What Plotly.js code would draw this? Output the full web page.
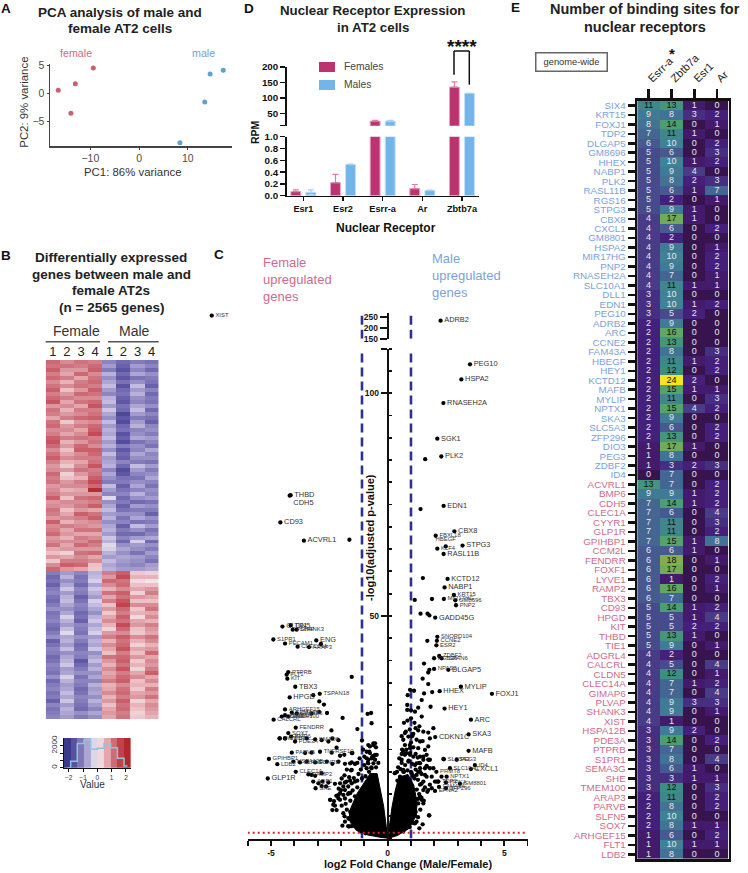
<!DOCTYPE html>
<html><head><meta charset="utf-8">
<script src="https://cdn.plot.ly/plotly-3.0.1.min.js"></script>
<style>html,body{margin:0;padding:0;background:#fff}#chart{width:748px;height:873px}</style>
</head><body><div id="chart"></div>
<script>
// ---------- Panel A: PCA ----------
const femalePC1=[-9.4,-13.1,-16.6,-14.0];
const femalePC2=[4.5,1.65,0.5,-3.6];
const malePC1=[17.3,14.6,13.5,8.4];
const malePC2=[4.1,3.4,-1.6,-8.9];
// ---------- Panel D: bars ----------
const receptors=['Esr1','Esr2','Esrr-a','Ar','Zbtb7a'];
const femalesRPM=[0.07,0.22,25,0.12,135];
const malesRPM=[0.06,0.53,25,0.09,115];
const femalesErr=[0.03,0.14,2,0.07,17];
const malesErr=[0.04,0.005,2,0.005,0];
// ---------- Panel B: expression heat map (columns of samples) ----------
const f1=[1.2,1.1,1.3,1.0,1.2,.9,1.1,1.3,1.0,1.2,
1.4,.8,1.1,1.0,.7,1.1,1.2,.9,1.0,1.3,
1.4,1.2,.9,1.1,1.3,1.0,.8,.9,1.2,1.0,
1.1,.8,.9,1.0,1.3,.8,.9,1.1,1.0,.8,
1.3,.9,1.0,1.2,.8,.9,1.1,.7,.5,.8,
.4,.9,1.2,
-1.1,-1.3,-1.2,-1.4,-1.1,-1.0,-1.2,-1.3,-1.1,-.9,
-1.2,-1.1,-1.0,-1.2,-1.3,-1.1,-.9,-1.4,-1.2,-1.0,
-1.1,-1.3,-1.2,-1.0,-1.1,-1.2,-.9,-1.3,-1.1,-1.0,
-1.2,-1.1,-1.4,-1.0,-1.2,-1.1,-1.0];
const f2=[.9,1.1,.8,.7,1.0,.6,.9,.5,.8,1.0,
.7,.9,.6,.8,1.0,.4,.8,.9,.7,1.0,
.6,.8,.5,.7,.9,.6,.4,.8,.3,.5,
.8,.9,.6,.8,.5,.9,.8,.5,.7,.9,
.6,1.0,.7,.8,.6,.9,.7,.8,.3,.7,
1.0,1.3,.8,
-.8,-.6,-.9,-.7,-.4,-.8,-.6,-.5,-.7,-.9,
-.7,-.3,-.6,-.8,-.5,-.2,-.7,-.6,-.8,-.5,
-.9,-.7,-.6,-.4,-.8,-.7,-.3,-.6,-.8,-.7,
-.5,-.7,-.4,-.8,-.6,-.7,-.8];
const f3=[1.1,1.0,.8,1.2,.7,1.0,1.1,.8,1.2,.9,
1.1,.7,1.0,.9,1.2,.8,1.0,.7,.9,1.1,
.8,1.2,1.3,.9,1.0,.7,.9,1.1,.8,.6,
1.0,.9,.7,.8,1.1,.9,1.0,.8,1.3,1.0,
.8,.9,1.1,.7,1.0,.9,1.2,.8,1.1,.9,
1.0,1.2,.7,
-1.0,-1.2,-1.1,-1.3,-1.0,-1.1,-1.4,-1.2,-1.0,-1.1,
-1.3,-1.2,-1.4,-1.0,-1.1,-1.2,-.9,-1.1,-1.3,-1.2,
-1.0,-1.1,-1.5,-1.3,-1.1,-.9,-1.2,-1.0,-1.1,-1.3,
-1.2,-1.0,-1.1,-1.2,-1.3,-.9,-1.1];
const f4=[1.0,1.2,1.3,.9,1.1,1.2,1.0,1.3,1.1,.9,
1.2,1.4,1.0,1.1,1.3,.9,1.2,1.3,1.5,1.0,
1.1,.9,1.3,1.2,1.0,1.1,1.4,1.0,1.1,1.3,
1.5,1.2,2.0,.8,1.2,1.0,1.3,.7,1.1,1.3,
.9,.8,1.1,.7,.9,1.2,1.0,.8,1.2,.7,
.9,.5,.4,
-.6,-.5,-.3,-.7,-.4,-.6,-.8,-.3,-.5,-.7,
-.9,-.6,-.4,-.7,-.5,-.3,-.8,-.6,-.7,-.4,
-.9,-.7,-.5,-.8,-.6,-.9,-.7,-1.0,-.6,-.8,
-.7,-.9,-.6,-.8,-1.0,-.7,-.9];
const m1=[-1.0,-.8,-1.1,-.6,-.9,-.7,-.5,-.8,-1.0,-.6,
-.5,-.8,-.4,-.7,-.9,-.5,-.8,-.6,-.7,-.5,
-.8,-.6,-.9,-.5,-.8,-.7,-.6,-1.0,-.7,-.9,
-1.1,-.5,-.8,-1.0,-.2,-.9,-.7,-.5,-.8,-.6,
-.9,-.7,-.6,-.8,-.4,-.6,-.2,-.3,-.6,-.8,
-.5,-.7,-.6,
1.0,.8,1.2,.9,.6,1.1,.7,1.0,.5,.8,
.4,.7,.9,.6,.3,.8,1.0,.6,.9,.7,
.5,1.1,.8,.6,.9,.7,.8,1.0,.6,.7,
.9,.6,.8,.5,.7,.8,.7];
const m2=[-1.3,-1.4,-1.6,-1.3,-1.5,-1.2,-1.6,-1.3,-1.2,-1.4,
-1.5,-1.2,-1.3,-1.8,-1.5,-1.7,-1.3,-1.2,-1.6,-1.4,
-1.7,-1.1,-1.5,-1.3,-1.4,-1.0,-1.3,-1.7,-1.5,-1.2,
-1.1,-1.4,-1.2,-1.0,-1.3,-1.1,-1.4,-1.2,-.9,-1.2,
-1.0,-1.4,-1.1,-1.3,-1.0,-1.3,-.9,-.7,-.9,-.7,
-.8,-.9,-.8,
1.3,1.5,1.1,1.2,.9,1.3,1.1,1.4,1.6,1.2,
1.0,1.3,1.1,1.5,1.2,.9,1.3,1.1,1.2,1.4,
1.0,1.2,1.3,1.1,1.4,1.0,1.2,1.3,.9,1.1,
1.2,1.0,1.3,1.1,1.2,1.0,1.1];
const m3=[-1.1,-.8,-1.0,-.7,-1.2,-.9,-.5,-.8,-.6,-.9,
-1.0,-.7,-.5,-.8,-1.1,-.8,-.6,-1.0,-.9,-.7,
-1.2,-.9,-1.0,-.7,-.9,-1.1,-.5,-.8,-1.0,-1.2,
-.9,-.7,-1.0,-.6,-.9,-1.3,-.8,-1.1,-.9,-.7,
-1.2,-.5,-.9,-1.3,-.8,-.3,-.8,-.9,-1.2,-.8,
-.9,-1.0,-.8,
.4,.6,.2,.5,.7,.3,.8,.5,.9,.4,
.6,.2,.7,.8,.5,.4,.9,.6,.3,.7,
.5,.8,.4,.6,.3,.7,.9,.5,.6,.4,
.7,.8,.3,.6,.5,.3,.4];
const m4=[-1.2,-1.0,-1.3,-.9,-1.1,-1.2,-1.4,-1.0,-1.3,-1.1,
-1.2,-.9,-1.3,-1.0,-1.2,-1.4,-1.0,-.9,-1.1,-.8,
-1.0,-1.2,-.7,-1.0,-.9,-1.2,-.8,-1.1,-.9,-.7,
-1.0,-1.2,-.9,-1.0,-.8,-1.2,-.9,-1.1,-1.4,-.9,
-1.1,-.8,-1.2,-1.0,-.7,-1.3,-.9,-1.1,-.8,-1.0,
-1.2,-.8,-.7,
.3,.6,.1,.5,.8,1.0,.7,.5,.9,1.1,
.7,.9,.6,1.0,.8,.7,1.1,.9,.6,.8,
1.2,.7,.9,.8,1.0,1.3,.7,.9,.6,1.0,
.8,1.1,.7,.9,.8,.7,.6];
const sampleLabels=['1','2','3','4','1','2','3','4'];
const keyBinCentres=[-2.1,-1.63,-1.17,-.7,-.23,.23,.7,1.17,1.63,2.1];
const keyCounts=[0,580,2210,2515,1670,1760,2180,1820,850,150];
// ---------- Panel C: volcano ----------
const upperNames=['XIST','ADRB2'];
const upperFC=[-7.54,2.27];
const upperP=[255,232];
const geneNames=['PEG10','HSPA2','RNASEH2A','SGK1','PLK2','EDN1','CBX8','FBXL18','HBEGF','KLF4','STPG3','RASL11B','KCTD12','NABP1','KRT15','MIR17HG','GM8696','PNP2','GADD45G','SNORD104','CCNE2','ESR2','ZDBF2','RGS16','TSPAN6','NPAS2','DLGAP5','MYLIP','HHEX','FOXJ1','HEY1','ARC','SKA3','CDKN1C','MAFB','SLC10A1','SLC5A3','PEG3','ID4','CXCL1','PRMT8','NPTX1','TDP2','ITPKA','GM8801','ZFP296','EFNA2','FAM43A',
'THBD','CDH5','CD93','ACVRL1','TIE1','CLDN5','PLVAP','SHANK3','S1PR1','CLEC14A','PECAM1','ARAP3','ENG','PTPRB','FLT1','KIT','TBX3','HPGD','TSPAN18','ARHGEF15','SEMA3G','GIMAP6','CCM2L','ADGRL4','TMEM100','CALCRL','FENDRR','SOX7','LYVE1','BMP6','CYYR1','PDE3A','SMAD6','PARVB','TNFRSF10','GPIHBP1','LDB2','HSPA12B','SLFN5','EDNRB','CLEC1A','RAMP2','GLP1R','AQP1','SHE'];
const geneFC=[3.53,3.16,2.39,2.13,2.30,2.4,2.86,2.06,2.49,2.13,3.21,2.4,2.57,2.44,2.84,2.41,2.9,2.93,2.04,2.13,2.11,2.09,2.21,1.99,2.31,1.99,2.6,3.14,2.23,4.47,2.44,3.57,3.47,2.04,3.47,2.67,2.41,2.96,3.74,3.57,2.09,2.53,2.17,2.5,3.1,2.5,2.03,2.2,
-4.16,-4.2,-4.6,-3.59,-4.16,-4.51,-4.07,-3.9,-4.9,-3.86,-4.4,-3.37,-3.06,-4.26,-4.33,-4.3,-3.96,-4.2,-2.91,-4.4,-4.11,-3.9,-4.54,-4.4,-4.26,-4.89,-3.94,-4.26,-4.63,-4.14,-4.4,-3.97,-3.11,-4.11,-2.9,-5.09,-4.73,-4.04,-3.76,-3.11,-3.94,-3.4,-5.14,-3.19,-3.09];
const geneP=[106.5,103.1,97.8,89.8,85.8,74.7,69,68,65.6,65.1,65.8,63.9,58.3,56.4,54.7,53.8,53.5,52.4,49.6,45.3,44.4,43.4,41,40.5,40.5,38.1,37.9,34.1,33.1,32.5,29.2,26.7,23.4,22.8,19.7,15.8,17.8,17.7,16.5,15.6,15,13.9,12.8,12.6,12.3,11.3,10.7,11.6,
77.1,77,71,66.9,47.9,47.6,46.9,46.9,44.7,43.1,43.8,43,44.5,37.4,36.8,35.9,34.1,31.7,32.5,29,28.3,28.1,27.4,27.7,27.4,26.7,24.9,23.7,22.5,22.9,22.5,21.8,22.3,19.3,19.5,17.9,16.7,17.3,17.1,17.1,15,14.4,13.5,12.8,11.3];
const largeLabels=['PEG10','HSPA2','RNASEH2A','SGK1','PLK2','EDN1','THBD','CDH5','CD93','ACVRL1','CBX8','STPG3','RASL11B','KCTD12','NABP1','GADD45G','MYLIP','HHEX','FOXJ1','HEY1','ARC','SKA3','CDKN1C','MAFB','ENG','TBX3','HPGD','GLP1R','DLGAP5','CXCL1','ADRB2','CLDN5'];
const otherFC=[1.61,1.41,-1.64,1.51,1.16,1.9,1.41,1.71,1.79,1.7,1.56,1.79,1.74,1.5,1.74,1.91,1.56,1.13,.96,.86,1.84,1.46,1.31,.84,.84,1,1.17,1.46,1.36,1.96,1.74,1.53,1.31,.74,.89,1.1,1.5,
-2.86,-3.19,-2.93,-2.73,-2.93,-2.6,-1.93,-1.54,-1.3,-.69,-.86,-.71,-2.41,-4.63,-4.4,-2.83,-2.54,-2.37,-2.11,-2.19,-2.04,-1.86,-1.51,-3.47,-3.26,-3.54,-2.4,-3.47,-3.26,-2.61,-2.37,-2.11,-1.83,-1.57,-1.54,-1.4,-3.26,-2.83,-3.11,-2.97,-2.83,-2.64,-2.26,-2.8,-2.54,
-.83,-.61,-.79,-1,-.83,-.61,-2.04,-1.83,-1.61,-2,-2.11,-1.83,-1.66,-2.46,-2.04,-2.19,-2.33,-1.94,-1.66,-1.47,-1.33,-1.26,
-.61,-.76,-.54,-.76,-.54,-.47,-.9,-.69,-.54,-.83,-.61,-.9,-.69,-1.54,-1.61,-1.4,-1.54,-1.97,-1.76,-1.54,-1.4,-1.9,-2.04,-1.9,-1.69,-2.47,-2.26,-2.37,-1.97,-1.83,-1.61,-2.11,-1.9,-1.69,-1.83,-1.69,-1.4,
1.39,1.74,.67,.96,.74,.6,1.39,1.67,1.81,1.53,1.24,1.39,1.67,2.39,1.96,1.39,1.24,1.67,.31,.67,1.53,1.81,2.03,2.17,1.39,1.53,1.89,1.39,1.31,1.53,1.77,1.24,1.46,1.17,.67,
.67,.81,.96,1.1,1.29,1.53,1.74,.6,.89,1.17,1.39,1.67,1.81,.67,1.03,1.31,1.6,1.89,.31,.53,.74,1,1.31,1.6,1.81,1.24,.96,.67,1.74,2.1,2.31,1.79,1.36,1.17,1.5,
.45,.6,.75,.9,1.05,1.2,.5,.62,.8,.95,1.1,1.2,1.35,1.45,1.6,1.15,1.3,1.45,1.6,1.7,1.25,1.35,1.45,1.55,1.3,1.4,1.2,1.3,1.1,.95,.7,.85,1,.55,.4,.42,1.1,.78,.95,1.05,1.2,.6,.7,.85,1,1.15,
-.5,-.7,-.85,-1,-1.15,-1.25,-1.1,-.95,-.8,-1.3,-1.45,-1.65,-1.3,-1.5,-1.7,-1.4,-1.6,-1.8,-1.75,-1.6,-1.85,-1.65,-1.55,-1.3,-1.15,-.95,-.65,-.9,-1.05,-.5,-.4,-1.2,-1.3,-1.1,-1.75,-1.85,-2.1,-2.2,-2.3];
const otherP=[85.2,74,67.1,58.5,53.6,53.8,50.5,50.5,50.1,44.4,39.3,37.9,37.3,35.9,34.7,32.9,32.6,33.2,33.4,32.2,29.6,31.1,29.4,30,28.9,28.8,28.5,27.4,25.2,24.8,23.8,24,24.3,23.7,22.9,23.5,21.9,
43.7,32.2,30.8,30.1,28.4,28.2,27.1,36.3,24.6,25.9,28,28.2,24.3,22.5,22.5,22.1,21.8,22.5,22.1,20.4,18.6,18.8,19.2,22.5,19.3,19.2,19.3,17.3,28.1,17.3,16.8,17.3,16.8,15.3,17.1,16.8,14.3,14.7,14.1,12.4,11.8,11.7,12.3,12.8,12.6,
21,21.4,19.5,18.4,17.7,18.4,12.4,12.6,13,10.9,9.8,10.9,10.2,8.7,8.7,6.4,7.6,2.9,2.7,3.8,4.9,6.8,
21,20.7,21.4,19.2,18.8,18.8,18,18,17.7,16.9,16.9,15.8,15.8,19.2,16.9,16.8,15.4,13.5,12.8,12.4,12.8,11.7,10.2,9.8,11.7,8.7,7.4,6.4,7.4,9,10.2,9,5.7,4.6,3.8,2.8,2.7,
21.8,20.7,19.5,19.2,18.8,19,18.4,18.8,17.7,17.7,16.9,15.8,16.2,17.9,15.8,15,14.3,13.9,14.7,15,12.8,12.1,12.8,12.8,12.1,10.9,11.3,9.4,7.9,7.9,5.2,3.8,8.7,5.3,1.6,
19.5,19.2,18.8,18.4,18.2,18.4,17.7,17.7,17.3,16.5,16.9,16.3,15.8,15.4,14.7,15,14.3,13.9,14.7,13.9,21,21.6,20.3,19.9,22.5,22.2,20.3,22.2,10.9,12.8,13.9,5.2,2.3,3.4,3.2,
16,17,16.5,17.5,16.8,15.5,18,20,20,21,20.5,19,17,14.5,15.8,13.5,13.2,12.3,11.5,10.5,11,10,9.2,8.5,8.9,6.5,6,4.8,3.5,2.6,15,15.3,15,15.6,15,13,14,24,24.5,23,24.8,23,26,26.5,27,26,
16,16,17,16.5,15.5,14.5,13.5,14,15,13,13.6,13.8,11.5,10.8,10,9.5,8.5,7.8,6.5,6,5,4.4,2.8,2.2,1.6,1.2,18.5,19.5,20,20.5,17,18,17,22,15.5,14.2,11.2,9.6,8.4];
const denseLeftFC=[0,-.2,-.85,-1.3,-1.6,-1.65,-1.45,-1.3,-1,-.75,-.45,-.3,-.17,-.06,0];
const denseLeftP=[0,.2,.8,1.7,3.6,6,8.3,10.2,12.6,14.6,14.6,10.9,7.2,2.7,0];
const denseRightFC=[0,.06,.19,.33,.48,.87,1.12,1.27,1.2,.9,.42,0];
const denseRightP=[0,2.7,7.2,10.9,13.8,14.4,12,7.9,4.9,2.2,.7,0];
const foldCutoff=[-1.1,1];
const pCutoff=1.3;
// ---------- Panel E: binding sites ----------
const maleGenes=['SIX4','KRT15','FOXJ1','TDP2','DLGAP5','GM8696','HHEX','NABP1','PLK2','RASL11B','RGS16','STPG3','CBX8','CXCL1','GM8801','HSPA2','MIR17HG','PNP2','RNASEH2A','SLC10A1','DLL1','EDN1','PEG10','ADRB2','ARC','CCNE2','FAM43A','HBEGF','HEY1','KCTD12','MAFB','MYLIP','NPTX1','SKA3','SLC5A3','ZFP296','DIO3','PEG3','ZDBF2','ID4'];
const femaleGenes=['ACVRL1','BMP6','CDH5','CLEC1A','CYYR1','GLP1R','GPIHBP1','CCM2L','FENDRR','FOXF1','LYVE1','RAMP2','TBX3','CD93','HPGD','KIT','THBD','TIE1','ADGRL4','CALCRL','CLDN5','CLEC14A','GIMAP6','PLVAP','SHANK3','XIST','HSPA12B','PDE3A','PTPRB','S1PR1','SEMA3G','SHE','TMEM100','ARAP3','PARVB','SLFN5','SOX7','ARHGEF15','FLT1','LDB2'];
const factors=['Esrr-a','Zbtb7a','Esr1','Ar'];
const esrra=[11,9,8,7,6,5,5,5,5,5,5,5,4,4,4,4,4,4,4,4,3,3,3,2,2,2,2,2,2,2,2,2,2,2,2,2,1,1,1,0,
13,9,7,7,7,7,7,6,6,6,6,6,6,5,5,5,5,5,4,4,4,4,4,4,4,4,3,3,3,3,3,3,3,2,2,2,2,1,1,1];
const zbtb7a=[13,8,14,11,10,6,10,9,8,6,2,9,17,6,2,9,10,9,7,11,10,10,5,9,16,13,8,11,12,24,15,11,15,9,6,13,17,8,3,7,
7,9,14,6,11,11,15,6,18,17,1,16,7,14,5,5,13,9,2,5,12,7,7,9,9,1,9,14,7,8,6,3,12,11,8,10,8,6,10,8];
const esr1=[1,3,0,1,0,0,1,4,2,1,0,1,1,0,0,0,0,0,0,1,0,1,2,0,0,0,0,1,0,2,1,0,4,0,0,0,1,0,2,0,
0,1,1,0,0,0,1,1,0,0,0,0,0,1,1,2,1,0,0,0,0,1,0,3,0,0,2,0,0,0,1,1,0,0,0,0,1,0,1,0];
const ar=[0,2,1,0,2,3,2,0,3,7,1,0,0,2,0,1,2,2,1,1,0,2,0,0,0,0,3,2,2,0,1,3,2,0,2,2,0,0,3,0,
2,2,2,4,3,2,8,0,1,0,2,1,0,2,4,2,0,1,0,4,1,2,4,3,1,0,0,2,0,4,0,1,3,2,2,0,1,2,1,0];

// ---------- helpers ----------
const W=748,H=873;
const hDom=(a,b)=>[a/W,b/W];
const vDom=(top,bot)=>[1-bot/H,1-top/H];
const FONT='"Liberation Sans",Arial,sans-serif';
const note=(text,x,y,size,color,extra)=>Object.assign({text,x:x/W,y:1-y/H,xref:'paper',yref:'paper',xanchor:'center',yanchor:'middle',showarrow:false,font:{family:FONT,size,color:color||'#222'}},extra||{});
const boxShape=(a,top,b,bot,fill,line)=>({type:'rect',xref:'paper',yref:'paper',x0:a/W,x1:b/W,y0:1-bot/H,y1:1-top/H,fillcolor:fill,line:line||{width:0}});
const lineShape=(a,top,b,bot,color,width)=>({type:'line',xref:'paper',yref:'paper',x0:a/W,x1:b/W,y0:1-bot/H,y1:1-top/H,line:{color,width}});

const PINK='#cf6a8c',BLUE='#7ba2dc';
const traces=[];
// Panel A
traces.push({type:'scatter',mode:'markers',x:femalePC1,y:femalePC2,xaxis:'x',yaxis:'y',marker:{size:5,color:'#c4626f'}});
traces.push({type:'scatter',mode:'markers',x:malePC1,y:malePC2,xaxis:'x',yaxis:'y',marker:{size:5,color:'#5ea2cf'}});
// Panel D
const barStyle=(name,y,err,fill,edge,errCol,offset,minus,xa,ya)=>({type:'bar',name,x:receptors.map((_,i)=>i),y,xaxis:xa,yaxis:ya,width:0.25,offset,
 marker:{color:fill,line:{color:edge,width:1}},
 error_y:{type:'data',symmetric:false,array:err,arrayminus:minus,color:errCol,thickness:1.2,width:3}});
const noMinus=receptors.map(()=>0);
[['x2','y2'],['x3','y3']].forEach(([xa,ya])=>{
 traces.push(barStyle('Females',femalesRPM,femalesErr,'#bb3470','#e9a6c4','#e07ca8',-0.315,noMinus,xa,ya));
 traces.push(barStyle('Males',malesRPM,malesErr,'#72b5ea','#c2e0f6','#a8d0f0',0.065,malesErr,xa,ya));
});
// Panel C guide lines
foldCutoff.forEach(v=>{
 traces.push({type:'scatter',mode:'lines',x:[v,v],y:[0,110],xaxis:'x4',yaxis:'y4',line:{color:'#2e3192',width:2.6,dash:'9px,5px'}});
 traces.push({type:'scatter',mode:'lines',x:[v,v],y:[150,268],xaxis:'x5',yaxis:'y5',line:{color:'#2e3192',width:2.6,dash:'9px,5px'}});
});
// Panel C points
traces.push({type:'scatter',mode:'lines',x:denseLeftFC,y:denseLeftP,xaxis:'x4',yaxis:'y4',fill:'toself',fillcolor:'#000',line:{color:'#000',width:1}});
traces.push({type:'scatter',mode:'lines',x:denseRightFC,y:denseRightP,xaxis:'x4',yaxis:'y4',fill:'toself',fillcolor:'#000',line:{color:'#000',width:1}});
traces.push({type:'scatter',mode:'markers',x:otherFC,y:otherP,xaxis:'x4',yaxis:'y4',marker:{size:4.3,color:'#000'}});
const labelPos={CDH5:'bottom right',HBEGF:'top center'};
const labelTrace=(names,x,y,xa,ya)=>({type:'scatter',mode:'markers+text',x,y,text:names,xaxis:xa,yaxis:ya,cliponaxis:false,
 marker:{size:4.3,color:'#000'},textposition:names.map(n=>labelPos[n]||'middle right'),
 textfont:{family:FONT,color:'#333',size:names.map(n=>largeLabels.includes(n)?7.4:5.9)}});
traces.push(labelTrace(geneNames,geneFC,geneP,'x4','y4'));
traces.push(labelTrace(upperNames,upperFC,upperP,'x5','y5'));
traces.push({type:'scatter',mode:'lines',x:[-6,6],y:[pCutoff,pCutoff],xaxis:'x4',yaxis:'y4',line:{color:'#e0202a',width:2,dash:'2px,3px'}});
// Panel B
const colsB=[f1,f2,f3,f4,m1,m2,m3,m4];
const zB=f1.map((_,r)=>colsB.map(c=>c[r]));
const divScale=[[0,'#2c2c80'],[.178,'#6058a6'],[.285,'#8c85c0'],[.393,'#c4bcde'],[.5,'#f2ecf2'],[.607,'#ecc0c4'],[.715,'#d27e88'],[.822,'#c44a55'],[1,'#ac1a1e']];
traces.push({type:'heatmap',z:zB,x:colsB.map((_,i)=>i),y:f1.map((_,i)=>i),xaxis:'x6',yaxis:'y6',zmin:-2.33,zmax:2.33,colorscale:divScale,showscale:false});
traces.push({type:'heatmap',z:[keyBinCentres],x:keyBinCentres,y0:1350,dy:2700,xaxis:'x7',yaxis:'y7',zmin:-2.33,zmax:2.33,colorscale:divScale,showscale:false});
traces.push({type:'scatter',mode:'lines',x:keyBinCentres,y:keyCounts,xaxis:'x7',yaxis:'y7',line:{shape:'hvh',color:'#8fc3de',width:1.5}});
// Panel E
const allGenes=maleGenes.concat(femaleGenes);
const rowIdx=allGenes.map((_,i)=>i);
const colsE=[esrra,zbtb7a,esr1,ar];
const zE=allGenes.map((_,r)=>colsE.map(c=>c[r]));
const seqScale=[[0,'#38144f'],[1/24,'#441a6c'],[2/24,'#44207a'],[4/24,'#483c86'],[6/24,'#465a8f'],[8/24,'#427294'],[10/24,'#3f8294'],[12/24,'#3c8e84'],[14/24,'#4c9c74'],[16/24,'#60a664'],[18/24,'#82ad50'],[20/24,'#a8c040'],[1,'#f6e41e']];
traces.push({type:'heatmap',z:zE,x:[0,1,2,3],y:rowIdx,xaxis:'x8',yaxis:'y8',zmin:0,zmax:24,colorscale:seqScale,showscale:false});
const cellX=[],cellY=[],cellT=[],cellC=[];
zE.forEach((row,r)=>row.forEach((v,c)=>{cellX.push(c);cellY.push(r);cellT.push(String(v));cellC.push(v>=11?'#111':'#e6e6ee');}));
traces.push({type:'scatter',mode:'text',x:cellX,y:cellY,text:cellT,xaxis:'x8',yaxis:'y8',textposition:'middle center',textfont:{family:FONT,size:9,color:cellC}});

const boldTick=(size,color)=>({family:FONT,size,color:color||'#111',weight:700});
const layout={width:W,height:H,margin:{l:0,r:0,t:0,b:0,pad:0},autosize:false,showlegend:false,paper_bgcolor:'#fff',plot_bgcolor:'rgba(0,0,0,0)',barmode:'overlay',hovermode:false,
 font:{family:FONT},
 // A
 xaxis:{domain:hDom(50,232),range:[-18.3,19.1],anchor:'y',showgrid:false,zeroline:false,showline:true,linecolor:'#444',linewidth:1.5,tickvals:[-10,0,10],ticktext:['\u221210','0','10'],ticks:'outside',ticklen:2,tickcolor:'#444',tickfont:{family:FONT,size:10.5,color:'#4d4d4d'}},
 yaxis:{domain:vDom(64,146),range:[-9.46,5.2],anchor:'x',showgrid:false,zeroline:false,showline:true,linecolor:'#444',linewidth:1.5,tickvals:[-5,0,5],ticktext:['\u22125','0','5'],ticks:'outside',ticklen:2,tickcolor:'#444',tickfont:{family:FONT,size:10.5,color:'#4d4d4d'}},
 // D upper
 xaxis2:{domain:hDom(286.7,479),range:[-0.42,4.43],anchor:'y2',visible:false},
 yaxis2:{domain:vDom(67,125.7),range:[10,200],anchor:'x2',showgrid:false,zeroline:false,showline:true,linecolor:'#111',linewidth:1.5,tickvals:[10,50,100,150,200],ticktext:['','50','100','150','200'],ticks:'outside',ticklen:5,tickwidth:1.5,tickcolor:'#111',tickfont:boldTick(9.8)},
 // D lower
 xaxis3:{domain:hDom(286.7,479),range:[-0.42,4.43],anchor:'y3',showgrid:false,zeroline:false,showline:true,linecolor:'#111',linewidth:1.5,tickvals:[0,1,2,3,4],ticktext:receptors,ticks:'outside',ticklen:4,tickwidth:1.5,tickcolor:'#111',tickfont:boldTick(9.2)},
 yaxis3:{domain:vDom(136.7,195.7),range:[0,1],anchor:'x3',showgrid:false,zeroline:false,showline:true,linecolor:'#111',linewidth:1.5,tickvals:[0,.2,.4,.6,.8,1],ticktext:['0.0','0.2','0.4','0.6','0.8','1.0'],ticks:'outside',ticklen:5,tickwidth:1.5,tickcolor:'#111',tickfont:boldTick(9.8)},
 // C lower
 xaxis4:{domain:hDom(247.7,528.3),range:[-6,6.03],anchor:'y4',showgrid:false,zeroline:false,showline:true,linecolor:'#111',linewidth:2,tickvals:[-6,-5,-4,-3,-2,-1,0,1,2,3,4,5,6],ticktext:['','-5','','','','','0','','','','','5',''],ticks:'outside',ticklen:5,tickwidth:1.8,tickcolor:'#111',tickfont:boldTick(8.5)},
 yaxis4:{domain:vDom(348.7,838.6),range:[0,110],anchor:'free',position:387.7/W,showgrid:false,zeroline:false,showline:true,linecolor:'#111',linewidth:2,tickvals:[50,100,110],ticktext:['50','100',''],ticks:'outside',ticklen:6,tickwidth:1.8,tickcolor:'#111',tickfont:boldTick(8.5),minor:{ticks:'inside',dtick:5,ticklen:3,tickwidth:1.8,tickcolor:'#111'}},
 // C upper
 xaxis5:{domain:hDom(205,528.3),range:[-7.83,6.03],anchor:'y5',visible:false},
 yaxis5:{domain:vDom(312.7,338.7),range:[150,268],anchor:'free',position:387.7/W,showgrid:false,zeroline:false,showline:true,linecolor:'#111',linewidth:2,tickvals:[150,200,250],ticks:'outside',ticklen:7,tickwidth:1.8,tickcolor:'#111',tickfont:boldTick(8.5)},
 // B
 xaxis6:{domain:hDom(45.7,158.7),range:[-.5,7.5],anchor:'y6',side:'top',showgrid:false,zeroline:false,showline:false,tickvals:[0,1,2,3,4,5,6,7],ticktext:sampleLabels,ticks:'',tickfont:{family:FONT,size:13,color:'#222'}},
 yaxis6:{domain:vDom(360,719),range:[f1.length-.5,-.5],anchor:'x6',visible:false},
 // key
 xaxis7:{domain:hDom(64,130.7),range:[-2.33,2.33],anchor:'y7',showgrid:false,zeroline:false,showline:true,linecolor:'#111',linewidth:1,tickvals:[-2,-1,0,1,2],ticktext:['\u22122','\u22121','0','1','2'],ticks:'outside',ticklen:3,tickcolor:'#111',tickfont:{family:FONT,size:6.5,color:'#333'}},
 yaxis7:{domain:vDom(738,767.7),range:[0,2700],anchor:'x7',showgrid:false,zeroline:false,showline:true,linecolor:'#111',linewidth:1,tickvals:[0,667,1333,2000],ticktext:['0','','','2000'],ticks:'outside',ticklen:3,tickcolor:'#111',tickangle:-90,tickfont:{family:FONT,size:8,color:'#333'}},
 // E
 xaxis8:{domain:hDom(637.2,728.5),range:[-.5,3.5],anchor:'y8',side:'top',showgrid:false,zeroline:false,showline:true,mirror:true,linecolor:'#111',linewidth:2.5,tickvals:[0,1,2,3],ticktext:factors,ticks:'outside',ticklen:9,tickwidth:2.5,tickcolor:'#111',tickangle:-45,tickfont:{family:FONT,size:11,color:'#222'}},
 yaxis8:{domain:vDom(100.6,859),range:[79.5,-.5],anchor:'x8',showgrid:false,zeroline:false,showline:true,mirror:true,linecolor:'#111',linewidth:2.5,tickvals:rowIdx,ticktext:allGenes.map((g,i)=>`<span style="color:${i<maleGenes.length?BLUE:PINK}">${g}</span>`),ticks:'outside',ticklen:7,tickwidth:2.5,tickcolor:'#111',tickfont:{family:FONT,size:9.8,color:BLUE}},
 shapes:[
  lineShape(45.7,341.7,100,341.7,'#555',1.6),
  lineShape(108,341.7,158.7,341.7,'#555',1.6),
  boxShape(319,62,335,72,'#bb3470'),
  boxShape(319,80,335,90,'#72b5ea'),
  lineShape(454,74.7,454,51,'#111',1.5),
  lineShape(454,51,469.3,51,'#111',1.5),
  lineShape(469.3,51,469.3,84.7,'#111',1.5)
 ],
 annotations:[
  note('<b>A</b>',6,9,13.5,'#111'),note('<b>B</b>',6,255,13.5,'#111'),note('<b>C</b>',219,254,13.5,'#111'),note('<b>D</b>',249,9,13.5,'#111'),note('<b>E</b>',515,8,13.5,'#111'),
  note('<b>PCA analysis of male and</b>',120,13,13.5),note('<b>female AT2 cells</b>',120,29,13.5),
  note('female',76,53,10.7,PINK),note('male',204,53,10.7,'#6fa3cc'),
  note('PC1: 86% variance',132.5,172,11.4,'#333'),
  note('PC2: 9% variance',24,102.7,11.4,'#333',{textangle:-90}),
  note('<b>Nuclear Receptor Expression</b>',372.7,10.5,13.3),note('<b>in AT2 cells</b>',372.7,27,13.3),
  note('Females',342,67,10.3,'#444',{xanchor:'left'}),note('Males',342,85,10.3,'#444',{xanchor:'left'}),
  note('<b>****</b>',462,46,19,'#111'),
  note('<b>RPM</b>',255,132,10.5,'#111',{textangle:-90}),
  note('<b>Nuclear Receptor</b>',386,228,12,'#111'),
  note('<b>Differentially expressed</b>',111,257.7,13.5),note('<b>genes between male and</b>',111,274,13.5),note('<b>female AT2s</b>',111,290.7,13.5),note('<b>(n = 2565 genes)</b>',111,307.7,13.5),
  note('Female',76,331,14,'#333'),note('Male',134,331,14,'#333'),
  note('Value',92,784,10,'#333'),
  note('Female<br>upregulated<br>genes',261,279,13,PINK,{xanchor:'left',align:'left'}),
  note('Male<br>upregulated<br>genes',430,275,13,BLUE,{xanchor:'left',align:'left'}),
  note('<b>-log10(adjusted p-value)</b>',370,538,11,'#111',{textangle:-90}),
  note('<b>log2 Fold Change (Male/Female)</b>',408,864,11,'#111'),
  note('<b>Number of binding sites for</b>',645,9,14.5),note('<b>nuclear receptors</b>',645,27,14.5),
  note('genome-wide',571.7,62.5,9.3,'#333',{width:70,height:17,bordercolor:'#666',borderwidth:1.5,borderpad:0}),
  note('<b>*</b>',671.7,53,15,'#111')
 ]
};
Plotly.newPlot('chart',traces,layout,{displayModeBar:false,staticPlot:true});
</script></body></html>
